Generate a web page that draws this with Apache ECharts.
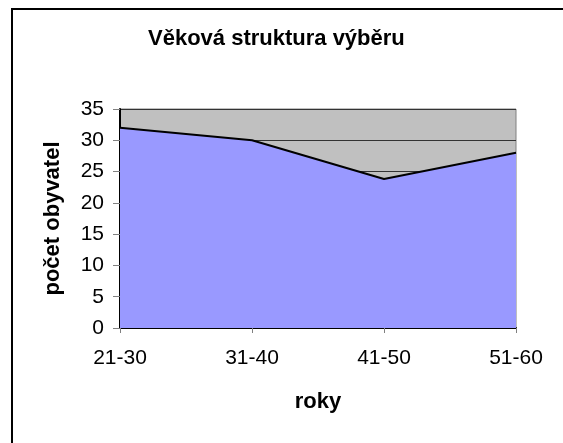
<!DOCTYPE html>
<html>
<head>
<meta charset="utf-8">
<script src="https://cdn.jsdelivr.net/npm/echarts@6/dist/echarts.min.js"></script>
<style>
html, body { margin: 0; padding: 0; background: #fff; overflow: hidden; }
#frame { position: absolute; left: 11px; top: 8px; width: 600px; height: 500px; border: 2px solid #000; box-sizing: border-box; }
#chart { position: absolute; left: 0; top: 0; width: 563px; height: 443px; }
</style>
</head>
<body>
<div id="frame"></div>
<div id="chart"></div>
<script>
// vekove skupiny a pocty
const categories = ['21-30', '31-40', '41-50', '51-60'];
const counts = [32, 30, 23.8, 28];
const yTicks = { min: 0, max: 35, interval: 5 };

let chart = echarts.init(document.getElementById('chart'));
let font = 'Liberation Sans, Arial, sans-serif';

let option = {
  animation: false,
  title: {
    text: 'Věková struktura výběru',
    left: 143,
    top: 23,
    textStyle: { fontFamily: font, fontSize: 22, fontWeight: 'bold', color: '#000' }
  },
  grid: {
    left: 120, right: 47, top: 109, bottom: 115,
    show: true,
    backgroundColor: '#c0c0c0',
    borderColor: '#808080',
    borderWidth: 1
  },
  xAxis: {
    type: 'category',
    data: categories,
    boundaryGap: false,
    name: 'roky',
    nameLocation: 'middle',
    nameGap: 63,
    nameTextStyle: { fontFamily: font, fontSize: 22, fontWeight: 'bold', color: '#000' },
    axisLine: { lineStyle: { color: '#000', width: 2 } },
    axisTick: { show: true, alignWithLabel: true, length: 5, lineStyle: { color: '#808080' } },
    axisLabel: { fontFamily: font, fontSize: 21, color: '#000', margin: 20 },
    splitLine: { show: false }
  },
  yAxis: {
    type: 'value',
    min: yTicks.min,
    max: yTicks.max,
    interval: yTicks.interval,
    name: 'počet obyvatel',
    nameLocation: 'middle',
    nameGap: 56,
    nameTextStyle: { fontFamily: font, fontSize: 22, fontWeight: 'bold', color: '#000' },
    axisLine: { show: true, lineStyle: { color: '#000', width: 2 } },
    axisTick: { show: true, length: 7, lineStyle: { color: '#808080' } },
    axisLabel: { fontFamily: font, fontSize: 21, color: '#000', margin: 16 },
    splitLine: { show: true, lineStyle: { color: '#333', width: 1 } }
  },
  series: [
    {
      type: 'line',
      data: counts,
      symbol: 'none',
      lineStyle: { color: '#000', width: 2 },
      areaStyle: { color: '#9999ff', opacity: 1 }
    }
  ]
};

chart.setOption(option);
</script>
</body>
</html>
